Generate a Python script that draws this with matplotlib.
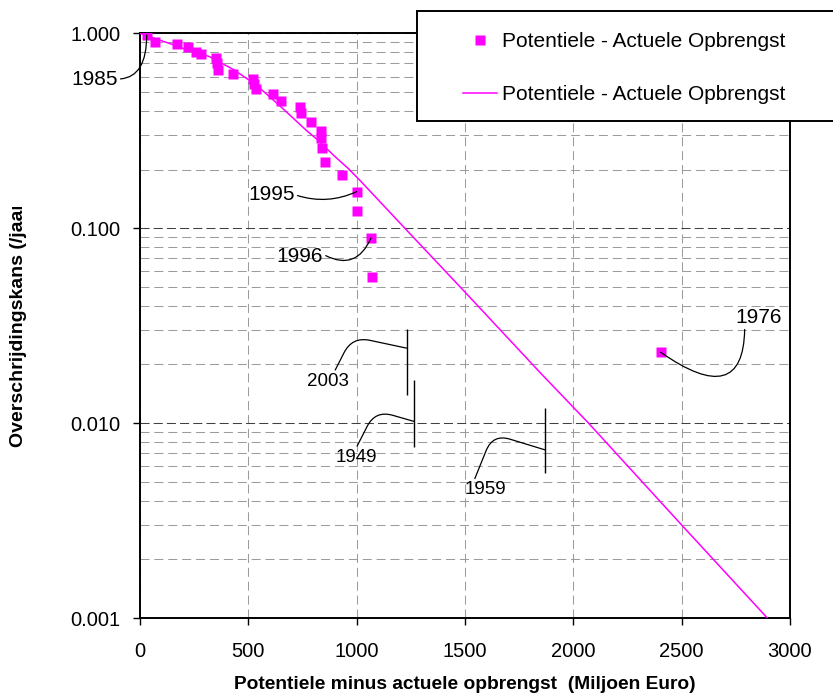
import matplotlib
matplotlib.use('Agg')
import matplotlib.pyplot as plt
from matplotlib.patches import Rectangle
from matplotlib.lines import Line2D
from matplotlib.ticker import FixedLocator, LogLocator, FuncFormatter, NullFormatter

plt.rcParams['font.family'] = ['Liberation Sans', 'DejaVu Sans']
plt.rcParams['lines.scale_dashes'] = False

# observed yearly values (Miljoen Euro, overschrijdingskans)
obs_x = [31, 69, 169, 222, 257, 282, 351, 357, 361, 431, 520, 526, 534, 615,
         649, 738, 742, 788, 834, 835, 838, 854, 934, 1000, 1000, 1066, 1072, 2403]
obs_p = [0.98, 0.906, 0.881, 0.851, 0.805, 0.783, 0.75, 0.702, 0.649, 0.616,
         0.581, 0.547, 0.516, 0.488, 0.451, 0.417, 0.389, 0.352, 0.317, 0.289,
         0.257, 0.219, 0.188, 0.154, 0.123, 0.089, 0.0561, 0.0231]

# fitted curve
fit_x = [0, 100, 150, 220, 320, 430, 535, 650, 770, 815, 900, 960, 1015,
         1215, 1500, 1850, 2070, 2500, 2910]
fit_p = [1.0, 0.915, 0.876, 0.82, 0.76, 0.653, 0.545, 0.42, 0.316, 0.287,
         0.233, 0.203, 0.176, 0.102, 0.047, 0.018, 0.010, 0.0030, 0.00096]

legend_label = 'Potentiele - Actuele Opbrengst'
magenta = '#ff00ff'

# labelled years: (label, index in obs, text offset px, ha, connection, relpos)
point_labels = [
    ('1985', 0, (-29, -44), 'right', 'angle3,angleA=0,angleB=90', (1, 0.5)),
    ('1995', 23, (-62, -3), 'right', 'arc3,rad=0.2', (1, 0.5)),
    ('1996', 25, (-48, -18), 'right', 'arc3,rad=0.55', (1, 0.6)),
    ('1976', 27, (98, 35), 'center', 'angle3,angleA=90,angleB=-35', (0.2, 0)),
]

# callouts with accent bar: (label, x, p attach, bar top, bar bottom, text offset px, relpos, angles)
bar_labels = [
    ('2003', 1234, 0.0242, 0.0303, 0.01392, (-79, -33), (0.63, 1), (63, -12)),
    ('1949', 1265, 0.0102, 0.0166, 0.00757, (-58, -36), (0.49, 1), (63, -16)),
    ('1959', 1869, 0.00729, 0.01194, 0.00555, (-60, -40), (0.23, 1), (68, -17)),
]

W, H = 833, 695
fig = plt.figure(figsize=(W / 100, H / 100), dpi=100)
ax = fig.add_axes([140 / W, 1 - 618 / H, 650 / W, (618 - 33.3) / H])

ax.plot(fit_x, fit_p, color=magenta, lw=1.1, zorder=3)
ax.plot(obs_x, obs_p, ls='none', marker='s', ms=7.2, mec='none', color=magenta, zorder=4)

ax.set_yscale('log')
ax.set_xlim(0, 3000)
ax.set_ylim(0.001, 1.0)
ax.xaxis.set_major_locator(FixedLocator([0, 500, 1000, 1500, 2000, 2500, 3000]))
ax.yaxis.set_major_locator(FixedLocator([0.001, 0.01, 0.1, 1.0]))
ax.yaxis.set_minor_locator(LogLocator(base=10, subs=range(2, 10)))
ax.yaxis.set_major_formatter(FuncFormatter(lambda v, pos: '%.3f' % v))
ax.yaxis.set_minor_formatter(NullFormatter())

ax.set_axisbelow(True)
ax.grid(which='major', axis='x', color='#9c9c9c', lw=0.75, ls=(0, (6.5, 3.5)))
ax.grid(which='minor', axis='y', color='#9c9c9c', lw=0.75, ls=(0, (6.5, 3.5)))
ax.grid(which='major', axis='y', color='#404040', lw=0.75, ls=(0, (6.5, 3)))

ax.tick_params(which='major', direction='out', length=5, width=1, labelsize=14.5)
ax.tick_params(axis='x', pad=12.5)
ax.tick_params(axis='y', pad=9)
ax.tick_params(which='minor', length=0)
for sp in ax.spines.values():
    sp.set_linewidth(1.4)
    sp.set_color('black')

ax.set_xlabel('Potentiele minus actuele opbrengst  (Miljoen Euro)',
              fontsize=13.8, fontweight='bold', labelpad=10.5)

# y label; its end is cut off in the original, so a white box covers it
fig.text(19 / W, 1 - 447 / H, 'Overschrijdingskans (/jaar)', rotation=90,
         ha='center', va='bottom', fontsize=14, fontweight='bold', zorder=3)
fig.add_artist(Rectangle((0, 1 - 207 / H), 45 / W, 207 / H, transform=fig.transFigure,
                         facecolor='white', edgecolor='none', zorder=4))

for year, i, off, ha, conn, rp in point_labels:
    ax.annotate(year, xy=(obs_x[i], obs_p[i]), xytext=off, textcoords='offset pixels',
                ha=ha, va='center', fontsize=15, zorder=5,
                arrowprops=dict(arrowstyle='-', connectionstyle=conn, lw=0.9,
                                color='black', shrinkA=0, shrinkB=0, relpos=rp))

for year, bx, bp, btop, bbot, off, rp, ang in bar_labels:
    ax.annotate(year, xy=(bx, bp), xytext=off, textcoords='offset pixels',
                ha='center', va='center', fontsize=13.5, zorder=5,
                arrowprops=dict(arrowstyle='-', lw=0.9, color='black',
                                connectionstyle='angle,angleA=%d,angleB=%d,rad=18' % ang,
                                shrinkA=0, shrinkB=0, relpos=rp))
    ax.vlines(bx, bbot, btop, color='black', lw=1.0, zorder=5)

# legend box (runs off the right edge)
fig.add_artist(Rectangle((417 / W, 1 - 121 / H), (850 - 417) / W, 110 / H,
                         transform=fig.transFigure, facecolor='white',
                         edgecolor='black', lw=1.4, zorder=2))
handles = [Line2D([], [], ls='none', marker='s', ms=7.2, mec='none', color=magenta),
           Line2D([], [], color=magenta, lw=1.1)]
leg = fig.legend(handles, [legend_label, legend_label], loc='upper left',
                 bbox_to_anchor=(463 / W, 1 - 32 / H), frameon=False,
                 borderpad=0, borderaxespad=0, handlelength=1.63,
                 handletextpad=0.25, labelspacing=1.64, fontsize=15)
leg.set_zorder(6)

fig.savefig('out.png', dpi=100)
